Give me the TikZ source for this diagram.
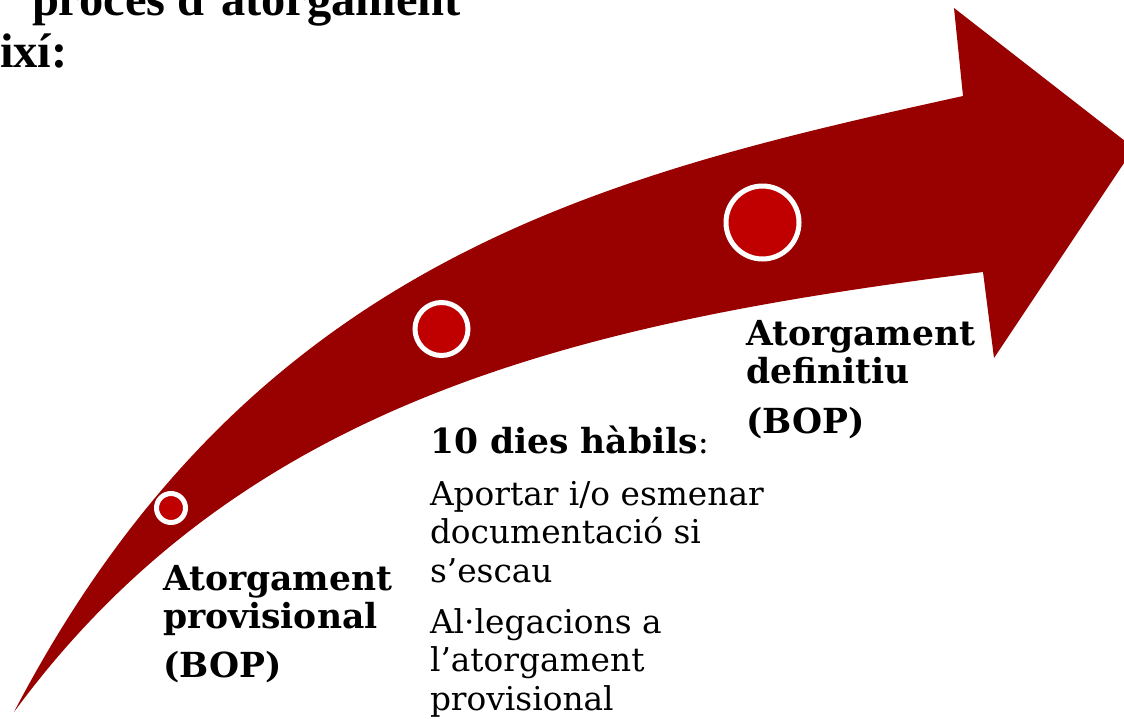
\documentclass[tikz,border=0pt]{standalone}
\usepackage{fontspec}
\setmainfont{DejaVu Serif}
\newfontfamily\timesfont{Liberation Serif}
\definecolor{arrowred}{HTML}{990000}
\definecolor{dotred}{HTML}{C00000}
\tikzset{
  dot/.style={circle, draw=white, line width=5pt, fill=dotred, inner sep=0pt},
  lbl/.style={anchor=base west, inner sep=0pt, outer sep=0pt, align=left, font=\fontsize{32.8}{38.5}\selectfont},
  blbl/.style={lbl, font=\bfseries\fontsize{34.5}{38}\selectfont},
  hdr/.style={anchor=base west, inner sep=0pt, outer sep=0pt, font=\timesfont\bfseries\fontsize{48.5}{52}\selectfont}
}
\begin{document}
\begin{tikzpicture}[x=1pt,y=-1pt]
\useasboundingbox (0,0) rectangle (1124,718);
\begin{scope}
\clip (0,0) rectangle (1124,718);
\fill[arrowred] (14,712) .. controls (250,260) and (600,176) .. (963,96)
  -- (954,8) -- (1134,148) -- (994,358) -- (983,272)
  .. controls (583,322) and (244,399) .. (14,712) -- cycle;
\node[hdr] (t1) at (32,15) {procés d’atorgament};
\node[hdr] (t2) at (0,67) {ixí:};
\end{scope}
\node[dot, minimum size=29pt] (c1) at (171,508) {};
\node[dot, minimum size=53pt] (c2) at (441.5,329) {};
\node[dot, minimum size=73pt] (c3) at (762.5,222.5) {};
% base anchor of a multi-line node = baseline of its last line
\node[blbl] (a1) at (163,628) {Atorgament\\provisional};
\node[blbl] (b1) at (163,677) {(BOP)};
\node[lbl] (h2) at (430,453) {{\bfseries\fontsize{34.5}{38}\selectfont 10 dies hàbils}:};
\node[lbl] (p2) at (430,582) {Aportar i/o esmenar\\documentació si\\s’escau};
\node[lbl] (q2) at (430,710) {Al·legacions a\\l’atorgament\\provisional};
\node[blbl] (a3) at (746,383) {Atorgament\\definitiu};
\node[blbl] (b3) at (746,433) {(BOP)};
\end{tikzpicture}
\end{document}
